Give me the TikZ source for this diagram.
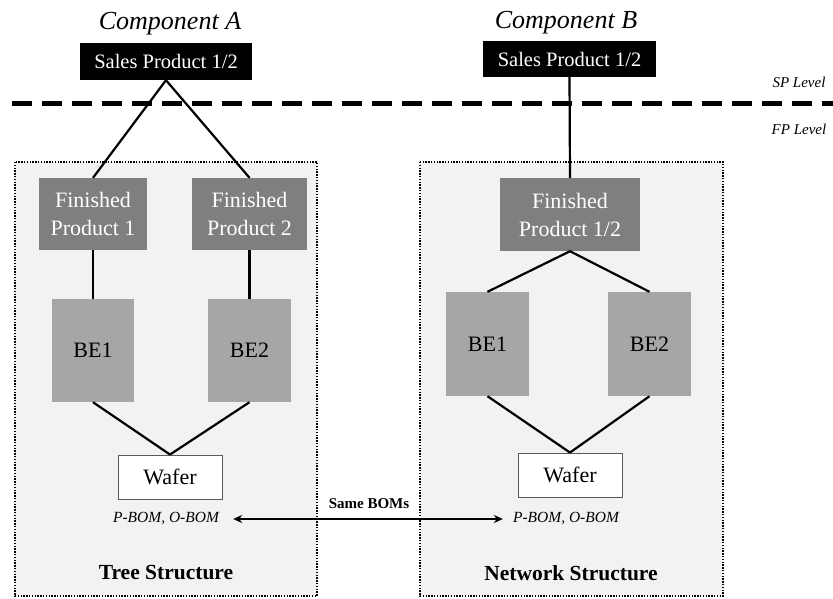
\documentclass[tikz,border=0pt]{standalone}
\usepackage{fontspec}
\setmainfont{Liberation Serif}
\usetikzlibrary{arrows.meta}
\definecolor{fpgray}{HTML}{7F7F7F}
\definecolor{begray}{HTML}{A6A6A6}
\definecolor{bggray}{HTML}{F2F2F2}
\definecolor{wborder}{HTML}{595959}
\tikzset{
  spbox/.style={fill=black, text=white, inner sep=0pt, font=\fontsize{20.5}{24}\selectfont},
  fpbox/.style={fill=fpgray, text=white, inner sep=0pt, align=center, font=\fontsize{22}{28}\selectfont},
  bebox/.style={fill=begray, text=black, inner sep=0pt, font=\fontsize{22}{26}\selectfont},
  waferbox/.style={fill=white, draw=wborder, line width=0.9pt, inner sep=0pt, font=\fontsize{22}{26}\selectfont},
  region/.style={fill=bggray, draw=black, line width=2.3pt, dash pattern=on 1.4pt off 1.4pt},
  conn/.style={line width=2.2pt, draw=black},
  comp/.style={inner sep=0pt, anchor=base, font=\fontsize{26}{30}\selectfont\itshape},
  lvl/.style={inner sep=0pt, font=\fontsize{15}{18}\selectfont\itshape},
  bom/.style={inner sep=0pt, font=\fontsize{15.5}{18}\selectfont\itshape},
  struct/.style={inner sep=0pt, font=\fontsize{21.5}{26}\selectfont\bfseries},
  same/.style={inner sep=0pt, font=\fontsize{15}{18}\selectfont\bfseries},
}
\begin{document}
\begin{tikzpicture}[x=1pt, y=-1pt]
\useasboundingbox (0,0) rectangle (833,598);
% regions
\draw[region] (15,162) rectangle (317,596);
\draw[region] (420,162) rectangle (723,596);
% level divider
\coordinate (dl) at (12,103);
\coordinate (dr) at (833,103);
\draw[line width=5pt, dash pattern=on 20pt off 10pt] (dl) -- (dr);
\node[lvl] (spl) at (799,82) {SP Level};
\node[lvl] (fpl) at (799,129) {FP Level};
% titles
\node[comp] (ca) at (170,29) {Component A};
\node[comp] (cb) at (566,28) {Component B};
% left tree
\node[spbox, minimum width=172pt, minimum height=37pt] (spa) at (166,61.5) {Sales Product 1/2};
\node[fpbox, minimum width=108pt, minimum height=72pt] (fp1) at (93,214) {Finished\\Product 1};
\node[fpbox, minimum width=115pt, minimum height=72pt] (fp2) at (249.5,214) {Finished\\Product 2};
\node[bebox, minimum width=82pt, minimum height=103pt] (bea1) at (93,350.5) {BE1};
\node[bebox, minimum width=83pt, minimum height=103pt] (bea2) at (249.5,350.5) {BE2};
\node[waferbox, minimum width=104pt, minimum height=44pt] (wa) at (170,477) {Wafer};
\node[bom] (boma) at (166,519) {P-BOM, O-BOM};
\node[struct] (tree) at (166,573) {Tree Structure};
% right network
\node[spbox, minimum width=173pt, minimum height=36pt] (spb) at (569.5,59) {Sales Product 1/2};
\node[fpbox, minimum width=140pt, minimum height=73pt] (fpb) at (570,214.5) {Finished\\Product 1/2};
\node[bebox, minimum width=83pt, minimum height=104pt] (beb1) at (487.5,344) {BE1};
\node[bebox, minimum width=83pt, minimum height=104pt] (beb2) at (649.5,344) {BE2};
\node[waferbox, minimum width=104pt, minimum height=44pt] (wb) at (570,475) {Wafer};
\node[bom] (bomb) at (566,519) {P-BOM, O-BOM};
\node[struct] (net) at (571,573) {Network Structure};
% connectors left
\draw[conn] (spa.south) -- (fp1.north);
\draw[conn] (spa.south) -- (fp2.north);
\draw[conn] (fp1.south) -- (bea1.north);
\draw[conn] (fp2.south) -- (bea2.north);
\draw[conn] (bea1.south) -- (wa.north);
\draw[conn] (bea2.south) -- (wa.north);
% connectors right
\draw[conn] (spb.south) -- (fpb.north);
\draw[conn] (fpb.south) -- (beb1.north);
\draw[conn] (fpb.south) -- (beb2.north);
\draw[conn] (beb1.south) -- (wb.north);
\draw[conn] (beb2.south) -- (wb.north);
% same BOMs arrow
\draw[conn, {Stealth[length=9pt,width=8pt]}-{Stealth[length=9pt,width=8pt]}] ([xshift=14pt]boma.east) -- ([xshift=-10pt]bomb.west);
\node[same] (sb) at (369,504) {Same BOMs};
\end{tikzpicture}
\end{document}
